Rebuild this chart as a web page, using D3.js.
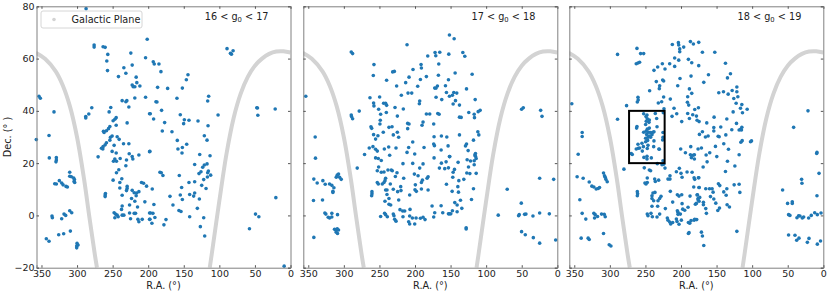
<!DOCTYPE html>
<html>
<head>
<meta charset="utf-8">
<script src="https://cdn.jsdelivr.net/npm/d3@7"></script>
<style>
  html, body { margin: 0; padding: 0; background: #fff; }
  svg { display: block; font-family: "DejaVu Sans", sans-serif; }
  .axis path { stroke: #808080; }
  .axis line { stroke: #555; }
  .axis text { fill: #222; font-size: 9.5px; font-family: "DejaVu Sans", sans-serif; }
  .label { fill: #222; font-size: 9.7px; }
</style>
</head>
<body>
<div id="chart"></div>
<script>
let svgWidth = 830;
let svgHeight = 294;

// Galactic plane as [R.A., Dec.]
let planeWest = [[358,62.2],[345,59.9],[330,55.1],[320,49.7],[310,41.7],[300,29.9],[290,13.6],[283,0],[275,-15],[272,-20]];
let planeEast = [[113.5,-20],[111,-15.4],[100,5.6],[90,23.5],[80,37.2],[70,46.6],[60,53],[50,57.3],[40,60],[30,61.8],[20,62.7],[10,62.8],[0,62.3]];

let xTicks = [350,300,250,200,150,100,50,0];
let yTicks = [-20,0,20,40,60,80];
let panelLabels = ['16', '17', '18'];

// stars per magnitude bin, [R.A., Dec.]
let stars16 = [
  [287.3,79.1],[276,65.2],[276,64.4],[263.4,64.5],[260.5,64.3],[201.4,67.4],[256.8,61.6],[224.4,62.1],[203.7,60.3],[258.2,59.1],[222.5,57.5],[234.2,56.5],[257.2,55.4],[231.4,54.4],[241.8,53.1],[216.9,52.9],[216,50.8],[222.5,49.9],[221.1,49.2],[218.8,49.2],[211.7,49.5],[218.8,44.9],[203.7,45.2],[236.6,43.9],[231.4,43.5],[230,43.9],[227.2,41.5],[252.6,41.3],[254.9,39.6],[198.1,38.9],[353.5,45.6],[351.6,44.8],[332.4,39.6],[279.3,41.2],[283.5,38.8],[287.8,37.8],[287.8,37.3],[245,37.4],[246.9,36.8],[249.3,36.2],[229.6,35.4],[245,34.5],[253.9,34],[255.8,33.2],[258.7,32.4],[262.9,32.2],[262,31.7],[357.3,29],[339.4,30.6],[250.7,30.4],[253,29.9],[243.6,30.1],[240.8,29.1],[253.9,28.8],[258.7,27.8],[260.5,27],[247.9,26.8],[234.7,27.4],[227.2,27.4],[263.4,26.3],[265.7,25.7],
  [263.8,25.4],[250.7,24.5],[245,23.9],[226.7,23.6],[213.1,23.1],[198.1,24.4],[270.4,22.4],[339,22],[329.1,22.1],[329.1,21.2],[329.6,20.5],[246.9,21.6],[248.8,20.7],[244.6,20.7],[239.4,21.8],[230.5,21.2],[222.5,22.5],[221.6,21.6],[231.4,19],[241.3,17.5],[244.6,16.3],[237.1,14],[249.3,13.5],[239.9,12.6],[310.3,16.5],[310.3,15],[308,14.8],[304.7,14.3],[303.7,13.7],[304.2,13],[303.3,12.6],[324.9,13.3],[331.4,12.1],[329.1,12],[321.6,12.4],[319.7,11.7],[315.5,11.1],[313.6,10.9],[239.9,10.5],[229.6,11.1],[229.6,10.3],[230.5,9.5],[222.5,9.6],[219.7,8.7],[216.9,7.5],[216.4,8.6],[213.1,9.1],[209.4,12.6],[206.5,12.3],[202.3,11.2],[260.1,8.4],[260.5,7.8],[260.5,7.2],[236.6,7.7],[223.4,6.5],[218.8,5.4],[204.7,5.2],[226.2,4],[236.6,3.6],[215,3.2],[237.5,2.3],[310.3,1.8],[307.5,1],[318.3,.5],[316,0],[335.2,-.2],[334.7,-.9],[321.6,-1.3],[247.9,1],[246,.5],[243.6,.1],[246.9,-.9],[242.2,-.5],[236.6,.1],[234.2,.1],[226.2,.9],[219.7,.8],[217.8,.8],[198.1,.9],[224.8,-1.3],[214.5,-1.5],[213.1,-2.4],[208.4,-1.5],[198.1,-1.5],[309.4,-6],[318.8,-7],[325.8,-7.4],[343.2,-8.9],[339.4,-9.9],[300,-10.7],[298.6,-11.3],[300.5,-11.7],[300.5,-12.4],
  [89.2,63.8],[80.7,63],[84.4,62],[83,61.7],[192.9,58.8],[191.5,57.9],[184.9,57.9],[182.1,55],[144.1,53.8],[146.4,51.9],[186.8,49],[172.7,48.6],[152,48.7],[159.6,44.8],[115,45.6],[116.4,43.8],[189.1,43.5],[187.7,43.4],[181.2,40.2],[47.4,41.2],[46.4,41.1],[21.5,40.7],[45.9,38.3],[101.8,38.4],[154.9,38.5],[197.1,38.9],[192.4,36.9],[149.2,36.6],[142.7,36.4],[130,36.1],[176.9,35.5],[150.2,35.1],[115.9,34.3],[180.2,32.3],[166.6,32],[121.1,30.5],[117.3,28.8],[159.1,28.7],[145.9,27.2],[152,26],[158.2,25.4],
  [152.5,23.9],[127.6,23.3],[113.1,22.8],[197.6,24.5],[134.7,19.5],[117.3,19.7],[121.1,19.3],[123.4,18.4],[125.8,16.7],[128.6,16],[115.4,17],[116.4,16.3],[112.2,15.4],[116.8,14.7],[122,13.7],[183.5,16.5],[181.6,16.3],[179.3,15.3],[156.3,15.3],[142.7,12.6],[134.7,12.9],[124.8,11.5],[118.7,10.3],[153,10.7],[194.3,10.1],[134.7,8.6],[136.1,7.4],[141.7,8],[154.9,7.8],[169.4,7.3],[152,6.1],[128.1,6.3],[20.6,6.8],[165.2,4],[192,4.2],[130.9,2.7],[156.8,1.9],[153.9,1.5],[196.7,.9],[193.4,.8],[190.6,-.8],[197.6,-1.5],[175,-1.6],[141.7,-.5],[122,-.9],[49.2,.5],[44.5,-.5],[194.8,-3],[177.9,-3.6],[126.7,-4.3],[57.7,-5.1],[120.6,-7.9],[8.9,-19.4]
];

let stars17 = [
  [151.6,69],[211.2,65.3],[289.6,62.5],[287.7,61.9],[171.8,62.3],[165.2,62.4],[170.8,61.1],[152.5,61.7],[182.1,61],[257.7,57.7],[166.6,57.9],[191.5,57.7],[191,56.4],[202.8,55.8],[229,55.1],[231.4,54.9],[258.6,53.5],[167.1,53.6],[184,53.1],[208.4,52.9],[192.4,52],[153,51.9],[239.9,51.7],[213.1,50.8],[225.8,49.5],[196.2,49.4],[157.2,49.6],[168.5,49.5],[172.3,48.7],[170.4,48.7],[155.8,47],[209.8,46.8],[204.6,46.8],[219.2,46],[353.5,45.6],[263.3,45],[249.7,45.3],[170.4,45.2],[151.6,45.6],[162.4,44.3],[193.4,43.8],[193.9,42.7],[258.2,43],[257.7,41.9],[244.1,42.9],[241.3,42.9],[239.9,42.1],[228.1,41.3],[216.4,40.7],[251.1,40.6],[240.3,39.4],[278.4,39.9],[248.3,38.7],[224.8,38],[289.6,38.4],[289.2,37.8],[287.7,37],[184,38.8],[179.3,38.8],[168,39],[166.1,38.7],[248.8,36.4],[188.7,35.7],[190.1,34.5],[249.3,35],[210.3,35.2],[208.4,35],[173.7,35],[236.6,33.7],[232.3,33.9],[261.9,33.9],[260.9,33.3],[210.3,33.2],[244.6,31.8],[224.8,31.8],[230.5,30.8],[223,29.9],[258.2,30.9],[252.1,30.5],[255.4,29.2],[340.3,30],[173.2,30.1],[162.9,30.4],[155.3,30],[203.2,28.1],[173.7,27.3],[172.7,26.7],[153.5,26.6],
  [264.3,25.8],[259.1,26.3],[255.4,25.3],[253,24.6],[243.1,25.4],[237,26.2],[226.7,25.8],[208.9,26],[211.2,24.1],[187.3,26],[163.3,25],[339.9,21.9],[270.9,23.3],[235.6,23],[200.4,23.5],[255.4,22],[251.6,21.8],[247.4,21],[173.2,22],[156.3,20.5],[151.6,22.5],[216.9,19.8],[203.2,19.9],[188.7,19.7],[165.7,18.1],[162.9,20],[158.2,17.9],[281.2,18.1],[251.1,18.5],[193.4,18.1],[253,17.1],[247.4,16.5],[243.6,16.6],[238,17.4],[233.3,17.4],[231.9,17.1],[225.3,16.3],[227.6,14.9],[200.9,15.8],[195.7,15.2],[241.3,14.2],[242.2,13.3],[215.9,14.2],[183,14.2],[181.6,14.8],[309.3,15.4],[307.5,15.8],[310.7,14.6],[306,14.6],[303.7,13.8],[342.2,13.9],[329.5,13.3],[337.5,12.4],[326.2,11.9],[320.1,12],[316.9,11.5],[314,10.6],[315.4,9.2],[315.4,8.8],[253,12.6],[251.6,12],[246,12],[243.6,12.6],[234.7,12],[241.3,9.7],[239.4,9.7],[230.5,10],[220.1,11],[219.7,9.5],[224.4,9.1],[199.5,11.7],[200,9.8],[198.1,9.2],[191,12.6],[189.6,13.5],[191,10.1],[181.6,9.7],[155.8,11.9],[260.5,9.1],[260.5,8.3],[260.9,7.5],[239.4,8],[207.5,7.8],[236.6,6.5],[222.9,5.9],[242.2,5.4],[236.6,4.3],[234.2,4],[342.7,5.7],[330,5.9],[176,3.6],[163.3,3.7],[207,2.3],[221.1,2.2],[217.3,1.7],[214.5,1.7],[172.3,1],[161,1],[153,.6],[326.7,.9],[325.3,.5],[316.9,.8],[308.9,.3],[242.7,.8],[241.3,.3],[248.3,-.4],[238.9,-.5],[230.5,.5],[229.6,-.1],[216.9,-.5],[207.5,-.2],[203.7,-1],[198.5,-1],[192.4,-1.1],[188.7,-.7],[185.9,-1.6],[173.7,-.6],[322,-.7],[320.1,-1],[316.9,-.6],[228.6,-1.5],[226.7,-2.2],[208.9,-2.4],[207.5,-3.3],[200.4,-3.3],[313.1,-5.3],[311.7,-5.6],[309.3,-5.1],[307.5,-5.6],[310.7,-6.4],[308.9,-6.9],[342.2,-8.4],
  [145,67.6],[132.8,62.3],[130,60.9],[119.7,54],[143.6,54.5],[127.6,48.4],[145.5,47],[141.3,46.8],[147.4,46],[115.4,44.3],[143.1,43.9],[146.4,42.6],[137.5,42.2],[108.4,40.2],[111.2,39.7],[124.4,39.4],[116.8,38.7],[116.4,37.4],[137.5,37.6],[135.1,37.5],[50.2,40.6],[47.8,41.2],[23.4,40.2],[21.5,37.9],[111.7,32],[110.3,30.8],[137.5,30.8],[117.8,28.8],[127.6,27.3],[129,26.6],
  [125.3,24.8],[115,23.7],[115.9,23.1],[115,22.6],[114,21.8],[151.1,22.5],[126.7,21.3],[122,20.8],[116.8,20.9],[139.4,20.3],[116.8,19.4],[124.8,18.5],[144.5,17.6],[153,18.2],[146.4,16.5],[127.2,16.2],[122.9,16],[114,16.1],[146.9,14.6],[131.4,13.8],[138.4,13.3],[139.8,11],[117.8,10.2],[147.8,9.2],[138.9,8.9],[136.1,5.8],[120.6,6.1],[144.1,4.9],[140.8,4],[134.2,2.7],[147.4,1.8],[140.8,1.4],[151.6,.6],[149.7,.6],[128.1,-4.7],[128.1,-5.2],[24.8,14.2],[5.1,13.8],[70.4,10],[50.6,4.7],[83,.1],[53.5,.3],[54.4,-.1],[46,.4],[44.1,.5],[34.2,-.2],[24.8,.9],[11.2,.6],[50.2,-6.2],[45,-7.4],[33.7,-8.5],[24.8,-10.6],[2.3,-9.4]
];

let stars18 = [
  [353.5,42.7],[338.9,31.7],[338.9,30.2],[289.2,61.6],[289.2,36.8],[276.5,42],[261.9,63.9],[256.8,61.9],[252.5,61.9],[262.9,58],[260.5,58.3],[258.2,58.6],[212.2,65.4],[203.7,66.1],[203.2,65.2],[196.2,64.4],[201.8,63.7],[201.8,62.6],[186.8,66.5],[182.6,65.6],[175.1,66.2],[208.9,60.2],[203.2,59.4],[189.6,59.7],[184.9,58.4],[175.1,57.3],[226.2,58],[232.8,56.8],[215.9,58],[208.9,57],[222.5,56],[238,55.5],[185.9,53.3],[201.4,52.4],[234.7,51.2],[225.8,51.8],[224.4,51.4],[230,49.6],[230.5,48.5],[204.6,49.6],[244.1,47.7],[188.2,48.4],[184.9,46.7],[190.6,45.4],[260.5,45.2],[260.2,44.2],[261.4,43.4],[224.4,45.3],[227.2,43.5],[231.9,43],[215,44.5],[191,43.3],[189.2,42.2],[175.5,41.2],[180.7,40.5],[209.8,41],[223.9,40.8],[206,38.9],[212.6,37.9],[190.6,39],[183.5,38.5],[178.3,38],[188.2,37.1],[199,35.9],[174.6,35.9],[177.4,36.4],
  [252.5,38.9],[247.8,38.4],[249.2,37.8],[236.1,39],[224.8,39.3],[247.4,37],[244.5,36.5],[248.8,36],[245,35.6],[234.2,37.1],[249.7,34.8],[261.9,34],[262.4,33.4],[233.7,33.9],[244.5,33.4],[247.4,33],[252.5,31.8],[249.2,32.2],[245.5,31.8],[242.7,31.7],[239.4,31.8],[248.3,31],[244.5,30.4],[240.8,30.9],[238,32],[249.7,29.5],[246.4,29.9],[242.7,29.9],[246.9,28.7],[249.7,28.2],[254.9,27.6],[260.5,27.2],[252.9,26.3],[246.4,26.8],[238,28.5],[225.3,31.7],[225.3,29.9],[225.8,28.9],[238.4,26.3],[231,25.4],[260,25.7],
  [269.9,23.7],[268.5,23.3],[262.9,25.4],[258.2,25.8],[254.4,24.6],[247.4,25.6],[230.5,25.3],[252.1,22.2],[247.8,22.6],[247.8,21.6],[241.7,22],[225.3,20.9],[233.3,19.8],[226.7,19.4],[224.4,19.6],[344.5,23.4],[200.4,25.4],[186.3,26.3],[193.8,24],[186.8,23.2],[183,23],[181.2,23.2],[185.4,22.1],[181.2,21.6],[280.2,17.7],[251.6,18.2],[244.5,17.4],[242.7,17.1],[222.5,18.1],[191.5,16.6],[184.4,16.5],[206.5,16.7],[202.3,18],[200,16.1],[198.5,14.6],[308.9,16.2],[307.5,15.2],[306.5,14.6],[305.6,13.8],[303.7,12.9],[346,14.8],[337.5,14.2],[329,12.8],[325.3,11.2],[322.5,10.9],[319.2,10.1],[316.4,10.3],[314.5,10.7],[247.4,14.3],[247.4,12.6],[249.2,12],[250.7,12.4],[237,13.9],[236.1,13],[231.4,13.5],[218.3,13.9],[215.5,13.9],[215.5,15.2],[181.6,14.4],[175.5,14.4],[182.1,10.9],[174.6,10.7],[261.4,9.1],[261,8.3],[261.4,7.5],[239.4,8.6],[236.6,8.8],[240.8,7.5],[240.8,6.5],[228.1,7.3],[230,6.5],[238.4,5.6],[232.3,5.6],[240.8,3.5],[232.8,3.5],[215,9.2],[205.1,7.9],[202.8,7.4],[199,7.9],[187.3,7.4],[176.9,7.9],[176,6.5],[174.6,5.4],[179.8,4.3],[211.7,5.1],[198.5,4.5],[190.1,3.1],[197.6,2.4],[194.8,2],[222,2.6],[205.1,1.8],[342.2,6],[338.9,.8],[333.8,-1.4],[322.5,.8],[320.6,.3],[317.3,-.4],[321.5,-1],[311.7,.5],[307.9,.4],[306.5,-.5],[247.4,.5],[246.4,-.1],[242.2,.8],[240.3,-.5],[233.7,-.6],[230,.5],[219.2,-1],[204.2,1.2],[204.2,.4],[200.9,.5],[206.5,-1.4],[199.5,-1.8],[185.9,-2],[181.6,-1.8],[177.9,-1.6],[218.3,-1.8],[215.9,-2.5],[214.5,-3.3],[211.7,-2.7],[205.6,-2.3],[202.8,-3.4],[189.6,-2.7],[187.7,-3],[189.6,-6.9],[188.7,-6.6],[308.9,-6.9],[340.3,-8.7],[330.5,-8.7],[329,-9.2],[300.9,-11.2],[298.5,-11.7],
  [169.9,62.4],[152.5,62.4],[137.5,58.2],[161.4,53.8],[168,50.9],[134.7,52.6],[130.5,54.2],[121.5,49.1],[128.1,47.8],[140.3,47.3],[146.9,46.9],[133.7,46.4],[121.5,47.3],[120.1,45.4],[125.8,44.7],[122.5,42.9],[114.5,42.4],[107,40.6],[116.4,41],[126.7,39.6],[113.6,39.3],[153.5,37.6],[135.6,36.9],[122,35.2],[163.8,35.4],[21.5,40],[41.7,33.7],[144.1,33.8],[153.9,33.6],[153.9,32.3],[169.9,32],[174.1,31],[161.9,30.4],[165.7,30],[147.8,30.3],[146.4,30.1],[137,30.8],[128.6,32.8],[118.3,32.7],[116.4,32.9],[114.5,33.7],[115,32.7],[115.9,28],[114,28.6],[100.9,28.5],[102.3,28.2],[139.9,27.4],[151.6,26.4],[133.3,25.3],[171.3,25.8],
  [176,25.4],[159.6,24],[164.7,23.1],[149.7,22.5],[118.3,23.2],[134.7,20.7],[163.3,20.5],[124.3,18.9],[168.9,18.5],[137.5,16.8],[8.9,24.1],[9.3,23.7],[6,16.1],[30.5,13.8],[30,12.3],[57.2,9.7],[8.9,7.5],[175,14.4],[180.7,13.8],[147.4,12.1],[145.5,11.4],[125.3,11.7],[118.3,11.9],[174.6,10.7],[165.2,10.2],[160,10.2],[156.3,10.2],[154.9,8.9],[135.6,10.2],[139.9,9],[117.3,8.8],[136.5,7.7],[158.6,7.2],[153.9,6.3],[177.4,7.8],[173.7,6.9],[176,6],[151.1,4.7],[168.5,5],[168.5,4.1],[178.4,4.6],[135.2,4.1],[131.9,3.2],[145.9,2.8],[148.3,1.9],[165.2,2.6],[164.3,.8],[180.7,-1.5],[50.2,4.6],[43.6,5.2],[43.6,4.6],[48.8,.3],[46.9,0],[37,-.9],[34.7,-.1],[32.8,-.2],[29.5,-1],[27.6,-.6],[20.6,-1],[16.9,0],[12.1,1],[8.4,.3],[3.2,.9],[171.3,-6.4],[169.9,-7.9],[121.5,-6.1],[168,-11.5],[48.8,-7.5],[39.8,-7.6],[34.2,-8.7],[37.4,-9.5],[20.1,-8.8],[22.4,-10.3],[3.9,-9.8],[8.4,-11]
];

let boxRa = [273, 223];
let boxDec = [20, 40];

let COLORS = { star: '#1f77b4', plane: '#d3d3d3', spine: '#808080' };

let allStars = [stars16, stars17, stars18];
let panelLefts = [36.5, 303.3, 569.3];
let panelWidth = 254;
let plotTop = 6.3;
let plotBottom = 267.7;

let svg = d3.select('#chart').append('svg')
  .attr('width', svgWidth)
  .attr('height', svgHeight);

let y = d3.scaleLinear().domain([-20, 80]).range([plotBottom, plotTop]);

allStars.forEach(function (stars, i) {
  let left = panelLefts[i];
  let right = left + panelWidth;
  let x = d3.scaleLinear().domain([357, 0]).range([left, right]);

  let line = d3.line()
    .x(d => x(d[0]))
    .y(d => y(d[1]))
    .curve(d3.curveCatmullRom);

  let clipId = 'clip' + i;
  svg.append('clipPath').attr('id', clipId)
    .append('rect')
      .attr('x', left)
      .attr('y', plotTop)
      .attr('width', panelWidth)
      .attr('height', plotBottom - plotTop);

  let panel = svg.append('g').attr('class', 'panel');

  panel.selectAll('.plane').data([planeWest, planeEast]).enter().append('path')
    .attr('class', 'plane')
    .attr('clip-path', 'url(#' + clipId + ')')
    .attr('d', line)
    .attr('fill', 'none')
    .attr('stroke', COLORS.plane)
    .attr('stroke-width', 4);

  panel.selectAll('.star').data(stars).enter().append('circle')
    .attr('class', 'star')
    .attr('cx', d => x(d[0]))
    .attr('cy', d => y(d[1]))
    .attr('r', 1.8)
    .attr('fill', COLORS.star);

  // inward ticks on all four sides, labels only bottom and first left
  let bottomAxis = d3.axisBottom(x).tickValues(xTicks).tickSize(-2.5).tickPadding(3);
  let topAxis = d3.axisTop(x).tickValues(xTicks).tickSize(-2.5).tickFormat('');
  let leftAxis = d3.axisLeft(y).tickValues(yTicks).tickSize(-2.5).tickPadding(2);
  let rightAxis = d3.axisRight(y).tickValues(yTicks).tickSize(-2.5).tickFormat('');
  if (i > 0) leftAxis.tickFormat('');

  panel.append('g').attr('class', 'axis').attr('transform', 'translate(0,' + plotBottom + ')').call(bottomAxis);
  panel.append('g').attr('class', 'axis').attr('transform', 'translate(0,' + plotTop + ')').call(topAxis);
  panel.append('g').attr('class', 'axis').attr('transform', 'translate(' + left + ',0)').call(leftAxis);
  panel.append('g').attr('class', 'axis').attr('transform', 'translate(' + right + ',0)').call(rightAxis);

  panel.append('text')
    .attr('class', 'label')
    .attr('x', (left + right) / 2)
    .attr('y', 289)
    .attr('text-anchor', 'middle')
    .text('R.A. (°)');

  let low = panelLabels[i];
  let title = panel.append('text')
    .attr('class', 'label')
    .attr('x', right - 22)
    .attr('y', 20)
    .attr('text-anchor', 'end');
  title.append('tspan').text(low + ' < g');
  title.append('tspan').attr('dy', 2).attr('font-size', 6.8).text('0');
  title.append('tspan').attr('dy', -2).text(' < ' + (+low + 1));

  if (i === 0) {
    panel.append('text')
      .attr('class', 'label')
      .attr('transform', 'translate(11,' + y(30) + ') rotate(-90)')
      .attr('text-anchor', 'middle')
      .text('Dec. (° )');

    let legend = panel.append('g');
    legend.append('rect')
      .attr('x', left + 4.5).attr('y', 11)
      .attr('width', 101).attr('height', 17).attr('rx', 2)
      .attr('fill', '#fff').attr('stroke', '#ccc').attr('stroke-width', 0.8);
    legend.append('circle')
      .attr('cx', left + 17.5).attr('cy', 19.5).attr('r', 1.8).attr('fill', COLORS.plane);
    legend.append('text')
      .attr('class', 'label')
      .attr('x', left + 35).attr('y', 22.8)
      .text('Galactic Plane');
  }

  if (i === 2) {
    panel.append('rect')
      .attr('x', x(boxRa[0]))
      .attr('y', y(boxDec[1]))
      .attr('width', x(boxRa[1]) - x(boxRa[0]))
      .attr('height', y(boxDec[0]) - y(boxDec[1]))
      .attr('fill', 'none')
      .attr('stroke', '#000')
      .attr('stroke-width', 2);
  }
});
</script>
</body>
</html>
